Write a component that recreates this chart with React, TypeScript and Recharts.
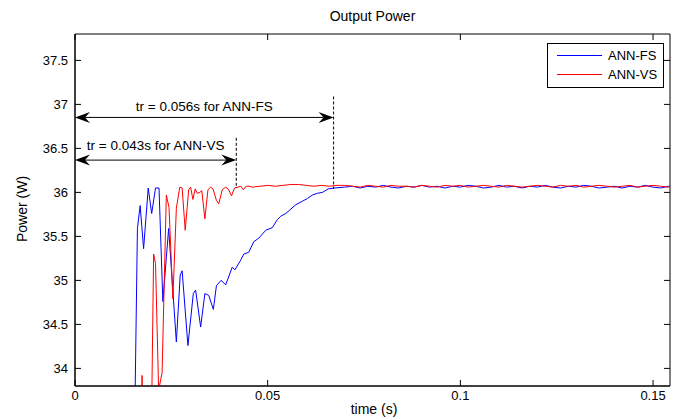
import React from "react";
import { LineChart, Line, XAxis, YAxis, ReferenceLine, ReferenceArea, Legend } from "recharts";

// values (time in s, power in W)
const fsHeadTime = [
  0, 0.015, 0.0155, 0.0162, 0.0169, 0.0178, 0.019, 0.0199, 0.0209, 0.0218,
  0.0228, 0.0243, 0.0263, 0.0273, 0.0278, 0.0293, 0.0307, 0.0313, 0.0326, 0.0337,
  0.0347, 0.0359, 0.0367, 0.0379, 0.0391, 0.0408, 0.0415, 0.043, 0.0438, 0.0451,
  0.0464, 0.0477, 0.0495, 0.0512, 0.0525, 0.0534, 0.0547, 0.056, 0.0573, 0.059,
  0.0603, 0.0616, 0.0629, 0.0642, 0.0657, 0.0673,
];
const fsHeadPower = [
  0, 30.5, 33.4, 35.59, 35.85, 35.36, 36.05, 35.76, 36.05, 36.05,
  34.76, 35.59, 34.3, 35.06, 35.11, 34.26, 34.85, 34.89, 34.47, 34.85,
  34.83, 34.67, 34.94, 35.0, 34.95, 35.15, 35.12, 35.23, 35.3, 35.32,
  35.44, 35.48, 35.57, 35.6, 35.69, 35.73, 35.76, 35.81, 35.86, 35.9,
  35.93, 35.97, 35.99, 36.0, 36.04, 36.05,
];

const vsHeadTime = [
  0, 0.017, 0.0174, 0.0178, 0.0196, 0.0204, 0.0209, 0.0217, 0.0226, 0.0237,
  0.0244, 0.0254, 0.0263, 0.0272, 0.0278, 0.0286, 0.0295, 0.03, 0.0306, 0.0312,
  0.0317, 0.0324, 0.0329, 0.0337, 0.0345, 0.0352, 0.0358, 0.0367, 0.0373, 0.0382,
  0.0391, 0.0399, 0.0406, 0.0414, 0.0423, 0.043, 0.0437, 0.0444, 0.0452, 0.046,
  0.048, 0.05, 0.052, 0.054, 0.056, 0.058, 0.06, 0.062, 0.064, 0.066,
  0.068,
];
const vsHeadPower = [
  0, 31.0, 33.92, 31.5, 32.5, 35.3, 35.19, 33.75, 33.95, 35.97,
  35.83, 34.79, 35.82, 36.06, 36.05, 35.57, 36.03, 36.06, 35.92, 36.04,
  35.99, 36.0, 36.02, 35.7, 36.03, 36.06, 36.04, 35.91, 35.87, 36.03,
  36.06, 36.03, 35.96, 36.05, 36.06, 36.07, 36.03, 36.07, 36.07, 36.06,
  36.07, 36.08, 36.07, 36.08, 36.09, 36.09, 36.08, 36.07, 36.08, 36.07,
  36.08,
];

// steady state, both controllers
const tailTime = [
  0.07, 0.072, 0.074, 0.076, 0.078, 0.08, 0.082, 0.084, 0.086, 0.088,
  0.09, 0.092, 0.094, 0.096, 0.098, 0.1, 0.102, 0.104, 0.106, 0.108,
  0.11, 0.112, 0.114, 0.116, 0.118, 0.12, 0.122, 0.124, 0.126, 0.128,
  0.13, 0.132, 0.134, 0.136, 0.138, 0.14, 0.142, 0.144, 0.146, 0.148,
  0.15, 0.152, 0.154, 0.156,
];
const fsTailPower = [
  36.06, 36.07, 36.05, 36.07, 36.06, 36.08, 36.06, 36.05, 36.07, 36.06,
  36.08, 36.06, 36.07, 36.05, 36.07, 36.06, 36.08, 36.07, 36.05, 36.06,
  36.08, 36.06, 36.07, 36.05, 36.07, 36.06, 36.08, 36.06, 36.05, 36.07,
  36.06, 36.08, 36.07, 36.05, 36.06, 36.07, 36.05, 36.07, 36.06, 36.08,
  36.06, 36.05, 36.07, 36.06,
];
const vsTailPower = [
  36.08, 36.07, 36.06, 36.08, 36.07, 36.06, 36.08, 36.07, 36.07, 36.06,
  36.08, 36.07, 36.06, 36.08, 36.07, 36.08, 36.06, 36.07, 36.08, 36.07,
  36.06, 36.08, 36.07, 36.06, 36.07, 36.08, 36.07, 36.06, 36.08, 36.07,
  36.08, 36.06, 36.07, 36.08, 36.07, 36.06, 36.07, 36.08, 36.06, 36.07,
  36.08, 36.07, 36.06, 36.07,
];

const xTicks = [0, 0.05, 0.1, 0.15];
const yTicks = [34, 34.5, 35, 35.5, 36, 36.5, 37, 37.5];

const fsData = [...fsHeadTime, ...tailTime].map((t, i) => ({
  t,
  p: [...fsHeadPower, ...fsTailPower][i],
}));
const vsData = [...vsHeadTime, ...tailTime].map((t, i) => ({
  t,
  p: [...vsHeadPower, ...vsTailPower][i],
}));

const FONT = '"Liberation Sans", Arial, Helvetica, sans-serif';
const W = 680;
const H = 420;
const PLOT = { left: 75, right: 670, top: 34, bottom: 386 };
const X_MAX = 0.1544;
const Y_MIN = 33.8;
const Y_MAX = 37.8;

// MATLAB style: ticks point inward, on all four sides
const XTick = (props: any) => {
  const { x, payload } = props;
  return (
    <g>
      <line x1={x} x2={x} y1={PLOT.bottom} y2={PLOT.bottom - 6} stroke="#000" />
      <line x1={x} x2={x} y1={PLOT.top} y2={PLOT.top + 6} stroke="#000" />
      <text x={x} y={PLOT.bottom + 14} textAnchor="middle" fontSize={13} fontFamily={FONT} fill="#000">
        {payload.value}
      </text>
    </g>
  );
};

const YTick = (props: any) => {
  const { y, payload } = props;
  return (
    <g>
      <line x1={PLOT.left} x2={PLOT.left + 6} y1={y} y2={y} stroke="#000" />
      <line x1={PLOT.right} x2={PLOT.right - 6} y1={y} y2={y} stroke="#000" />
      <text x={PLOT.left - 7} y={y + 5} textAnchor="end" fontSize={13} fontFamily={FONT} fill="#000">
        {payload.value}
      </text>
    </g>
  );
};

// double-headed arrow (notched heads) with its caption above
const arrowShape = (caption: string, gap: number) => (props: any) => {
  const { x1, y1, x2 } = props;
  const L = 15;
  const hw = 5.5;
  const n = 10;
  const left = `${x1},${y1} ${x1 + L},${y1 - hw} ${x1 + n},${y1} ${x1 + L},${y1 + hw}`;
  const right = `${x2},${y1} ${x2 - L},${y1 - hw} ${x2 - n},${y1} ${x2 - L},${y1 + hw}`;
  return (
    <g>
      <line x1={x1 + n} x2={x2 - n} y1={y1} y2={y1} stroke="#000" strokeWidth={1} />
      <polygon points={left} fill="#000" />
      <polygon points={right} fill="#000" />
      <text x={(x1 + x2) / 2} y={y1 - gap} textAnchor="middle" fontSize={13.5} fontFamily={FONT} fill="#000">
        {caption}
      </text>
    </g>
  );
};

const LegendBox = (props: any) => {
  const items = props.payload || [];
  return (
    <svg width={117} height={45} style={{ display: "block" }}>
      <rect x={0.5} y={0.5} width={116} height={44} fill="#fff" stroke="#000" strokeWidth={1} />
      {items.map((it: any, i: number) => (
        <g key={it.value}>
          <line x1={10} x2={55} y1={12.5 + i * 19} y2={12.5 + i * 19} stroke={it.color} strokeWidth={1} />
          <text x={61} y={17 + i * 19} fontSize={13} fontFamily={FONT} fill="#000">
            {it.value}
          </text>
        </g>
      ))}
    </svg>
  );
};

export default function App() {
  return (
    <div style={{ position: "absolute", left: 0, top: 0, width: W, height: H, background: "#fff", fontFamily: FONT }}>
      <div
        style={{
          position: "absolute",
          left: PLOT.left,
          width: PLOT.right - PLOT.left,
          top: 8,
          textAlign: "center",
          fontSize: 14,
          lineHeight: "16px",
          color: "#000",
        }}
      >
        Output Power
      </div>
      <LineChart
        width={W}
        height={H}
        margin={{ top: PLOT.top, right: W - PLOT.right, bottom: 4, left: 15 }}
        style={{ fontFamily: FONT }}
      >
        <XAxis
          type="number"
          dataKey="t"
          domain={[0, X_MAX]}
          ticks={xTicks}
          allowDataOverflow
          height={30}
          tickLine={false}
          axisLine={{ stroke: "#000" }}
          tick={<XTick />}
          label={{
            content: () => (
              <text x={374} y={414} textAnchor="middle" fontSize={14} fontFamily={FONT} fill="#000">
                time (s)
              </text>
            ),
          }}
        />
        <YAxis
          type="number"
          dataKey="p"
          domain={[Y_MIN, Y_MAX]}
          ticks={yTicks}
          allowDataOverflow
          width={60}
          tickLine={false}
          axisLine={{ stroke: "#000" }}
          tick={<YTick />}
          label={{
            content: () => (
              <text
                x={27}
                y={209}
                textAnchor="middle"
                fontSize={14}
                fontFamily={FONT}
                fill="#000"
                transform="rotate(-90 27 209)"
              >
                Power (W)
              </text>
            ),
          }}
        />
        <ReferenceArea x1={0} x2={X_MAX} y1={Y_MIN} y2={Y_MAX} fill="none" stroke="#000" strokeWidth={1} />
        <Line
          data={fsData}
          dataKey="p"
          name="ANN-FS"
          stroke="#0000ff"
          strokeWidth={1}
          dot={false}
          activeDot={false}
          isAnimationActive={false}
        />
        <Line
          data={vsData}
          dataKey="p"
          name="ANN-VS"
          stroke="#ff0000"
          strokeWidth={1}
          dot={false}
          activeDot={false}
          isAnimationActive={false}
        />
        <ReferenceLine
          segment={[{ x: 0.0671, y: 37.09 }, { x: 0.0671, y: 36.04 }]}
          stroke="#000"
          strokeDasharray="3 2"
          ifOverflow="visible"
        />
        <ReferenceLine
          segment={[{ x: 0.04185, y: 36.62 }, { x: 0.04185, y: 36.05 }]}
          stroke="#000"
          strokeDasharray="3 2"
          ifOverflow="visible"
        />
        <ReferenceLine
          segment={[{ x: 0, y: 36.852 }, { x: 0.0671, y: 36.852 }]}
          ifOverflow="visible"
          shape={arrowShape("tr = 0.056s for ANN-FS", 6.5)}
        />
        <ReferenceLine
          segment={[{ x: 0, y: 36.367 }, { x: 0.04185, y: 36.367 }]}
          ifOverflow="visible"
          shape={arrowShape("tr = 0.043s for ANN-VS", 10)}
        />
        <Legend
          layout="vertical"
          align="center"
          verticalAlign="middle"
          content={<LegendBox />}
          wrapperStyle={{ left: 547, top: 43, width: 117, height: 45, margin: 0 }}
        />
      </LineChart>
    </div>
  );
}
